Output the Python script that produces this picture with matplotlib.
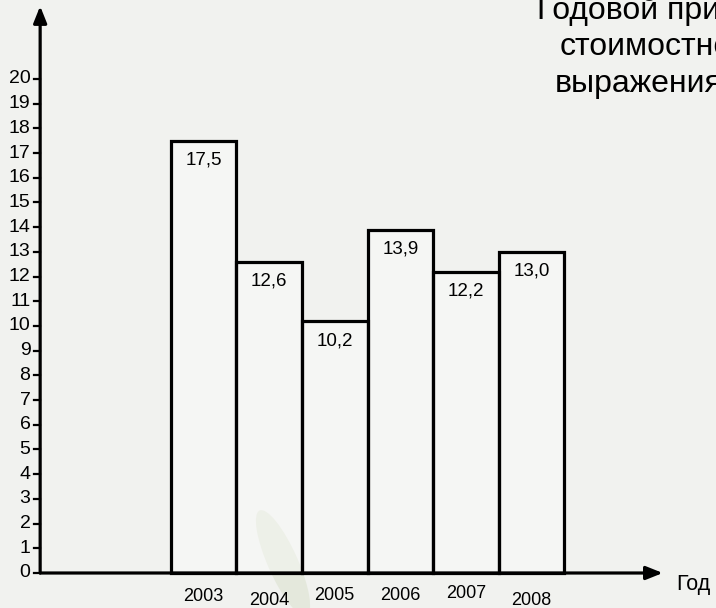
import matplotlib
matplotlib.use("Agg")
import matplotlib.pyplot as plt
from matplotlib.patches import Ellipse
from matplotlib.transforms import IdentityTransform

matplotlib.rcParams.update({"font.family": ["Liberation Sans", "DejaVu Sans"]})

# annual values, billions
years = ["2003", "2004", "2005", "2006", "2007", "2008"]
values = [17.5, 12.6, 10.2, 13.9, 12.2, 13.0]
value_labels = ["17,5", "12,6", "10,2", "13,9", "12,2", "13,0"]
yticks = list(range(0, 21))
title_lines = ["Годовой прирост", "стоимостного", "выражения"]

# small vertical shifts of the year captions (points)
year_dy = [0, -3, 1, 1, 2, -3]

fig = plt.figure(figsize=(7.16, 6.08), dpi=100, facecolor="#f1f2ef")
ax = fig.add_axes([0, 0, 1, 1])
ax.set_facecolor("#f4f5f2")
ax.set_xlim(-3.102, 7.811)
ax.set_ylim(-1.417, 23.198)
ax.axis("off")

# faint watermark shape near the bottom
ax.add_patch(Ellipse((283, 45), 30, 115, angle=24, color="#dfe5d5",
                     alpha=0.7, lw=0, transform=IdentityTransform(), zorder=1))

# bars
xs = list(range(len(years)))
ax.bar(xs, values, width=1.0, facecolor=(1, 1, 1, 0.35),
       edgecolor="black", linewidth=2.3, zorder=3)

for x, v, lab in zip(xs, values, value_labels):
    ax.annotate(lab, (x, v), xytext=(0, -14), textcoords="offset points",
                ha="center", va="center", fontsize=13.5, zorder=4)

for x, yr, dy in zip(xs, years, year_dy):
    ax.annotate(yr, (x, 0), xytext=(0, -17 + dy), textcoords="offset points",
                ha="center", va="center", fontsize=13)

# axes with arrows
x0 = -2.49
ax.annotate("", xy=(x0, 22.95), xytext=(x0, 0),
            arrowprops=dict(arrowstyle="-|>,head_length=1.0,head_width=0.4",
                            color="black", lw=2.3, shrinkA=0, shrinkB=0),
            zorder=5)
ax.annotate("", xy=(7.0, 0), xytext=(x0, 0),
            arrowprops=dict(arrowstyle="-|>,head_length=1.0,head_width=0.4",
                            color="black", lw=2.3, shrinkA=0, shrinkB=0),
            zorder=5)

# y ticks
for t in yticks:
    ax.plot([x0 - 0.09, x0], [t, t], color="black", lw=1.6, zorder=5)
    ax.annotate(str(t), (x0, t), xytext=(-7, 0), textcoords="offset points",
                ha="right", va="center", fontsize=14)

ax.annotate("Год", (7.0, 0), xytext=(10, -8), textcoords="offset points",
            ha="left", va="center", fontsize=15.5)

# title, runs off the right edge
title_x = [537, 560, 555]
title_y = [597, 561, 524]
for s, px, py in zip(title_lines, title_x, title_y):
    fig.text(px / 716, py / 608, s, ha="left", va="center", fontsize=23)

fig.savefig("out.png", dpi=100, facecolor=fig.get_facecolor())
